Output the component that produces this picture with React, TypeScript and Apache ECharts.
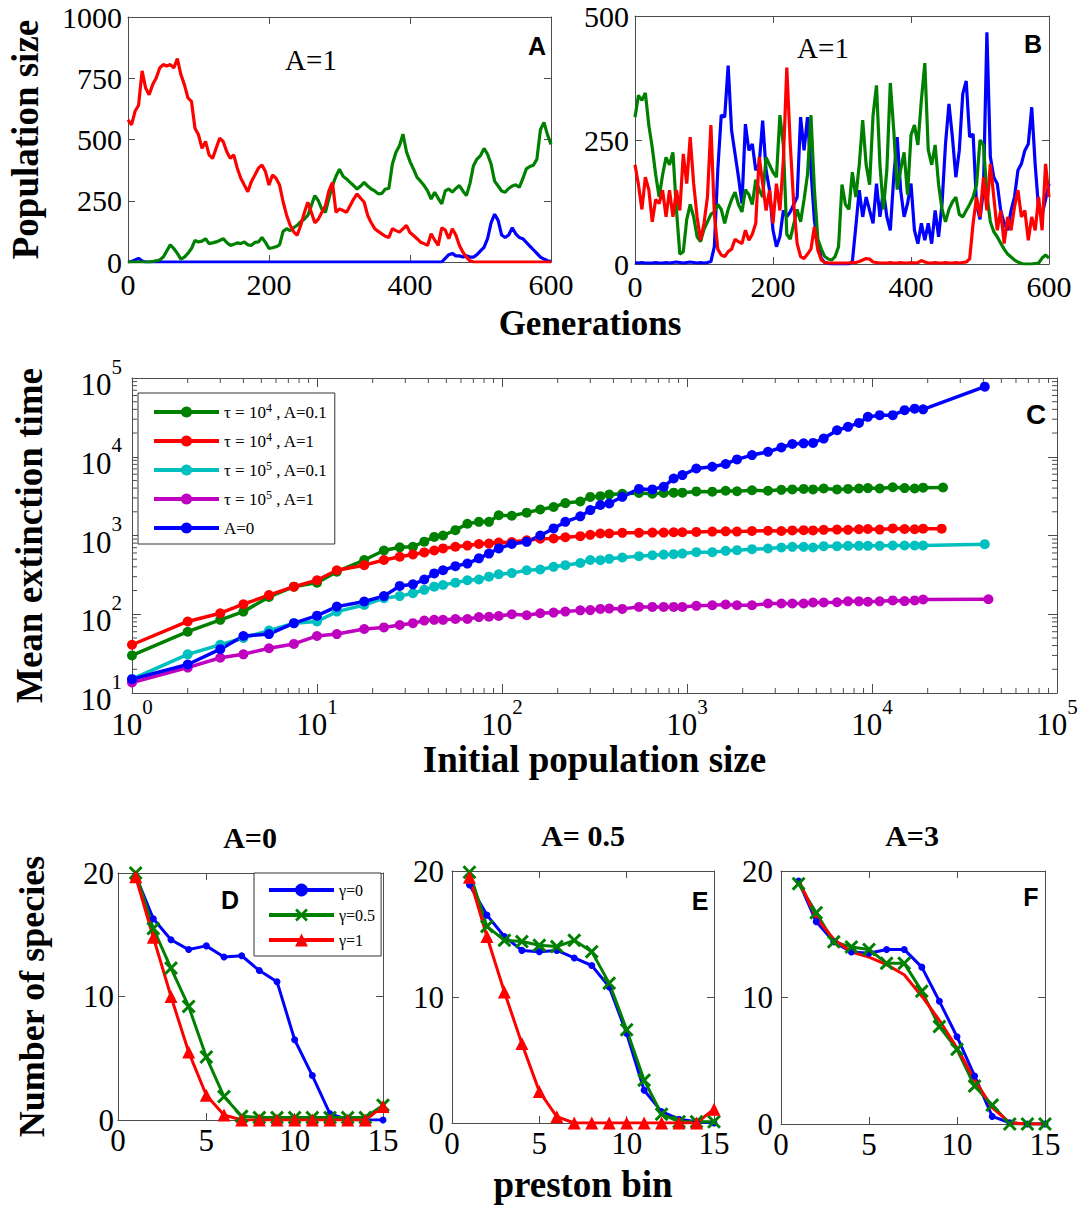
import React, { useEffect, useRef } from "react";
import * as echarts from "echarts";

const SERIF = "'Liberation Serif','Times New Roman',serif";
const SANS = "'Liberation Sans',Arial,sans-serif";
const AX = "#4d4d4d";
const BLUE = "#0000ff";
const GREEN = "#008000";
const RED = "#ff0000";
const CYAN = "#00bfbf";
const MAGENTA = "#bf00bf";

// ---------- Panels A & B: population size vs generation (sampled every 5 generations) ----------
const generations = Array.from({ length: 121 }, (_, i) => i * 5);

const popA_red = [
  580, 560, 615, 640, 780, 710, 683, 724, 751, 792, 806, 800, 806, 792, 830, 765, 724, 670, 656, 546,
  519, 464, 492, 437, 423, 464, 505, 492, 451, 423, 437, 383, 342, 314, 287, 328, 355, 383, 396, 369,
  314, 355, 342, 314, 246, 191, 150, 123, 109, 150, 200, 244, 203, 160, 175, 203, 230, 290, 325, 203,
  217, 210, 203, 230, 257, 278, 260, 244, 190, 160, 136, 125, 115, 105, 100, 136, 128, 122, 135, 149,
  120, 108, 95, 81, 75, 68, 115, 90, 68, 140, 130, 95, 136, 110, 68, 40, 20, 5, 0, 0,
  0, 0, 0, 0, 0, 0, 0, 0, 0, 0, 0, 0, 0, 0, 0, 0, 0, 0, 0, 0,
  0,
];
const popA_green = [
  0, 0, 0, 0, 0, 0, 0, 2, 5, 8, 20, 45, 70, 55, 35, 12, 20, 35, 55, 88,
  82, 85, 95, 75, 78, 82, 88, 95, 80, 68, 72, 78, 75, 82, 70, 68, 80, 82, 100, 80,
  55, 58, 62, 70, 125, 136, 128, 140, 150, 165, 175, 190, 230, 271, 250, 215, 203, 260, 312, 350,
  379, 350, 339, 325, 312, 298, 310, 325, 310, 298, 290, 278, 280, 298, 300, 400, 447, 474, 522, 450,
  410, 379, 345, 330, 312, 290, 257, 285, 260, 237, 290, 298, 285, 300, 312, 290, 271, 320, 393, 420,
  434, 464, 440, 400, 330, 310, 290, 285, 300, 310, 315, 305, 340, 380, 390, 395, 420, 540, 570, 520,
  480,
];
const popA_blue = [
  0, 2, 8, 15, 4, 0, 0, 0, 0, 0, 0, 0, 0, 0, 0, 0, 0, 0, 0, 0,
  0, 0, 0, 0, 0, 0, 0, 0, 0, 0, 0, 0, 0, 0, 0, 0, 0, 0, 0, 0,
  0, 0, 0, 0, 0, 0, 0, 0, 0, 0, 0, 0, 0, 0, 0, 0, 0, 0, 0, 0,
  0, 0, 0, 0, 0, 0, 0, 0, 0, 0, 0, 0, 0, 0, 0, 0, 0, 0, 0, 0,
  0, 0, 0, 0, 0, 0, 0, 0, 0, 0, 15, 30, 35, 25, 25, 20, 25, 20, 20, 30,
  45, 60, 95, 160, 195, 170, 110, 100, 110, 140, 115, 100, 95, 80, 65, 50, 35, 20, 12, 5,
  3,
];

const popB_green = [
  296, 340, 330, 345, 280, 235, 180, 135, 180, 215, 200, 225, 110, 20, 25, 90, 120, 95, 55, 45,
  70, 85, 100, 105, 120, 110, 82, 110, 130, 145, 120, 105, 150, 140, 120, 170, 150, 135, 215, 200,
  185, 175, 300, 240, 60, 50, 80, 110, 85, 130, 180, 300, 150, 50, 30, 15, 10, 8, 15, 35,
  160, 120, 110, 185, 135, 200, 290, 200, 160, 300, 360, 200, 110, 190, 365, 270, 150, 190, 225, 140,
  260, 280, 240, 330, 405, 230, 200, 240, 160, 110, 85, 110, 125, 135, 100, 95, 108, 120, 135, 160,
  250, 240, 140, 85, 65, 55, 42, 30, 20, 14, 8, 4, 1, 0, 0, 0, 1, 2, 12, 18,
  12,
];
const popB_blue = [
  3, 2, 3, 2, 2, 2, 3, 2, 2, 3, 2, 3, 4, 3, 2, 3, 4, 3, 2, 3,
  2, 3, 5, 35, 190, 300, 296, 400, 269, 222, 175, 122, 282, 229, 242, 189, 202, 289, 189, 149,
  68, 35, 55, 108, 95, 105, 120, 135, 296, 229, 296, 189, 88, 41, 11, 3, 1, 0, 0, 0,
  0, 0, 0, 5, 75, 149, 95, 135, 108, 82, 162, 95, 149, 95, 68, 175, 256, 149, 95, 122,
  162, 68, 41, 82, 48, 82, 41, 108, 55, 122, 242, 323, 256, 175, 229, 343, 369, 256, 262, 120,
  90, 150, 467, 216, 175, 162, 108, 82, 68, 108, 135, 189, 202, 229, 242, 316, 200, 110, 100, 130,
  162,
];
const popB_red = [
  200, 160, 110, 175, 150, 85, 130, 122, 149, 95, 149, 95, 149, 108, 222, 162, 256, 162, 95, 48,
  82, 135, 280, 100, 30, 18, 15, 25, 30, 50, 45, 41, 68, 48, 60, 82, 216, 162, 108, 149,
  82, 162, 108, 209, 396, 242, 122, 41, 15, 11, 20, 30, 75, 28, 8, 3, 2, 2, 2, 2,
  2, 2, 2, 3, 3, 5, 8, 11, 10, 4, 3, 2, 2, 2, 3, 2, 2, 3, 2, 2,
  3, 2, 3, 7, 4, 2, 2, 3, 2, 2, 3, 2, 2, 3, 2, 3, 4, 10, 82, 135,
  95, 175, 108, 202, 135, 68, 108, 41, 95, 68, 115, 149, 95, 108, 48, 95, 68, 135, 68, 202,
  135,
];

// ---------- Panel C: mean extinction time vs initial population size ----------
const initialSize = [
  1, 2, 3, 4, 5.5, 7.5, 10, 12.8, 18, 23, 28, 33, 38, 43, 48, 56, 65, 75, 85, 96,
  113, 136, 161, 190, 220, 265, 300, 340, 380, 447, 550, 650, 748, 847, 944, 1123,
  1370, 1618, 1863, 2246, 2740, 3236, 3710, 4270, 4800, 5480, 6470, 7420, 8500, 9500,
  11000, 12950, 15000, 17000, 18900,
];
const extTau4A01 = [
  30, 60, 85, 108, 166, 224, 252, 347, 488, 645, 708, 720, 835, 960, 1000, 1170, 1410, 1490, 1490, 1810,
  1780, 1950, 2140, 2300, 2580, 2700, 3090, 3160, 3310, 3390, 3470, 3390, 3470, 3500, 3500, 3630,
  3600, 3700, 3650, 3750, 3700, 3800, 3850, 3900, 3850, 3950, 3850, 3900, 3950, 4000,
  3950, 4100, 4000, 3950, 4050,
];
const extTau4A01End = [24200, 4070];
const extTau4A1 = [
  41, 81, 103, 134, 175, 224, 270, 362, 420, 488, 537, 575, 610, 645, 685, 720, 745, 780, 790, 815,
  825, 870, 910, 915, 950, 980, 1020, 1060, 1060, 1080, 1080, 1090, 1090, 1100, 1100, 1110,
  1120, 1130, 1120, 1140, 1150, 1140, 1160, 1170, 1160, 1180, 1190, 1180, 1200, 1210,
  1190, 1230, 1210, 1200, 1220,
];
const extTau4A1End = [23800, 1220];
const extTau5A01 = [
  15, 31, 41, 50, 62, 77, 81, 108, 131, 160, 170, 185, 204, 224, 235, 252, 270, 276, 300, 322,
  333, 362, 370, 400, 420, 447, 488, 486, 505, 525, 546, 562, 573, 579, 590, 614,
  614, 638, 651, 670, 684, 704, 718, 718, 704, 732, 732, 739, 739, 739,
  739, 746, 746, 746, 746,
];
const extTau5A01End = [40700, 776];
const extTau5A1 = [
  13.6, 21, 28, 31, 37, 42, 53, 56, 65, 68, 73, 77, 83, 85, 85, 87, 87, 92, 93, 95,
  100, 97, 103, 105, 108, 112, 113, 117, 118, 117, 124, 124, 124, 124, 124, 128,
  130, 133, 130, 130, 137, 137, 137, 137, 141, 141, 142, 146, 146, 144,
  146, 150, 147, 150, 154,
];
const extTau5A1End = [42600, 155];
const extA0 = [
  15, 23, 36, 53, 56, 77, 96, 125, 145, 170, 229, 240, 276, 330, 362, 408, 440, 513, 590, 685,
  780, 830, 1000, 1230, 1490, 1750, 2100, 2440, 2550, 3100, 3900, 3850, 4160, 5300, 5850, 7100,
  7460, 8100, 9250, 10500, 11540, 13100, 14500, 14800, 15000, 17000, 21700, 24000, 26900, 32100,
  33700, 33700, 39000, 40800, 40000,
];
const extA0End = [40700, 77600];

// ---------- Panels D, E, F: number of species per preston bin ----------
const prestonBins = [1, 2, 3, 4, 5, 6, 7, 8, 9, 10, 11, 12, 13, 14, 15];
const dGamma0 = [19.8, 16.3, 14.6, 13.8, 14.1, 13.2, 13.3, 12.1, 11.2, 6.5, 3.6, 0.5, 0.05, 0, 0];
const dGamma05 = [20, 15.5, 12.3, 9.2, 5.1, 1.9, 0.3, 0.2, 0.2, 0.2, 0.2, 0.2, 0.2, 0.2, 1.2];
const dGamma1 = [19.7, 14.8, 10.0, 5.5, 2.0, 0.4, 0, 0, 0, 0, 0, 0, 0, 0, 1.1];
const eGamma0 = [18.9, 16.5, 14.8, 13.7, 13.6, 13.7, 13.1, 12.5, 10.8, 7.1, 2.6, 0.9, 0.3, 0.1, 0];
const eGamma05 = [19.9, 15.6, 14.5, 14.4, 14.1, 14.0, 14.5, 13.6, 11.1, 7.4, 3.4, 0.7, 0.1, 0.1, 0.1];
const eGamma1 = [19.5, 14.8, 10.4, 6.3, 2.5, 0.5, 0, 0, 0, 0, 0, 0, 0, 0, 1.1];
const fGamma0 = [19.2, 16.0, 14.4, 13.6, 13.5, 13.8, 13.8, 12.4, 9.7, 6.9, 3.8, 0.6, 0.1, 0, 0];
const fGamma05 = [19.0, 16.7, 14.4, 14.0, 13.8, 12.7, 12.7, 10.5, 7.7, 5.9, 3.0, 1.5, 0, 0, 0];
const fGamma1 = [19.3, 16.3, 14.6, 13.6, 13.2, 12.6, 11.8, 10.1, 8.2, 6.0, 3.5, 1.3, 0.1, 0, 0];

const C_NAMES = ["τ = 10⁴ , A=0.1", "τ = 10⁴ , A=1", "τ = 10⁵ , A=0.1", "τ = 10⁵ , A=1", "A=0"];
const G_NAMES = ["γ=0", "γ=0.5", "γ=1"];

const X_SYMBOL = "path://M0,1.5L1.5,0L5,3.5L8.5,0L10,1.5L6.5,5L10,8.5L8.5,10L5,6.5L1.5,10L0,8.5L3.5,5Z";

// minor tick positions for the log axes
const minorX: number[] = [];
for (let d = 0; d < 5; d++) for (let m = 2; m <= 9; m++) minorX.push(m * Math.pow(10, d));
const minorY: number[] = [];
for (let d = 1; d < 5; d++) for (let m = 2; m <= 9; m++) minorY.push(m * Math.pow(10, d));

function axisPair(pos: "x" | "y", gridIndex: number, common: any, primaryExtra: any) {
  const base = {
    gridIndex,
    splitLine: { show: false },
    axisLine: { show: true, onZero: false, lineStyle: { color: AX, width: 1 } },
    axisTick: { show: true, inside: true, length: 7, lineStyle: { color: AX, width: 1 } },
    ...common,
  };
  return [
    { ...base, position: pos === "x" ? "bottom" : "left", ...primaryExtra },
    { ...base, position: pos === "x" ? "top" : "right", axisLabel: { show: false } },
  ];
}

const tickFont = (size: number, margin: number) => ({
  fontFamily: SERIF,
  fontSize: size,
  color: "#000",
  margin,
  formatter: (v: number) => String(v),
});

const axisTitle = (size: number) => ({
  fontFamily: SERIF,
  fontSize: size,
  fontWeight: "bold",
  color: "#000",
});

const logLabel = (margin: number) => ({
  margin,
  formatter: (v: number) => `{b|10}{e|${Math.round(Math.log10(v))}}`,
  rich: {
    b: { fontFamily: SERIF, fontSize: 31, color: "#000", lineHeight: 44, verticalAlign: "bottom" },
    e: { fontFamily: SERIF, fontSize: 21, color: "#000", verticalAlign: "top" },
  },
});

function pairs(xs: number[], ys: number[]) {
  return xs.map((x, i) => [x, ys[i]]);
}

function buildOption() {
  const grids = [
    { left: 128, top: 17, width: 423, height: 245 },
    { left: 635, top: 16, width: 414, height: 248 },
    { left: 132, top: 378, width: 925, height: 315 },
    { left: 118, top: 873, width: 265, height: 247 },
    { left: 452, top: 871, width: 262, height: 252 },
    { left: 781, top: 871, width: 264, height: 253 },
  ].map((g) => ({ ...g, show: false, containLabel: false }));

  const xAxis: any[] = [
    ...axisPair("x", 0, { type: "value", min: 0, max: 600, interval: 200 }, { axisLabel: tickFont(30, 7) }),
    ...axisPair("x", 1, { type: "value", min: 0, max: 600, interval: 200 }, { axisLabel: tickFont(30, 7) }),
    ...axisPair(
      "x",
      2,
      { type: "log", logBase: 10, min: 1, max: 100000, splitNumber: 5, axisTick: { show: true, inside: true, length: 9, lineStyle: { color: AX } } },
      {
        axisLabel: logLabel(3),
        name: "Initial population size",
        nameLocation: "middle",
        nameGap: 45,
        nameTextStyle: axisTitle(37),
      }
    ),
    ...axisPair("x", 3, { type: "value", min: 0, max: 15, interval: 5 }, { axisLabel: tickFont(31, 5) }),
    ...axisPair(
      "x",
      4,
      { type: "value", min: 0, max: 15, interval: 5 },
      { axisLabel: tickFont(31, 5), name: "preston bin", nameLocation: "middle", nameGap: 43, nameTextStyle: axisTitle(37) }
    ),
    ...axisPair("x", 5, { type: "value", min: 0, max: 15, interval: 5 }, { axisLabel: tickFont(31, 5) }),
  ];

  const yAxis: any[] = [
    ...axisPair(
      "y",
      0,
      { type: "value", min: 0, max: 1000, interval: 250 },
      { axisLabel: tickFont(30, 6), name: "Population size", nameLocation: "middle", nameGap: 84, nameTextStyle: axisTitle(37) }
    ),
    ...axisPair("y", 1, { type: "value", min: 0, max: 500, interval: 250 }, { axisLabel: tickFont(30, 6) }),
    ...axisPair(
      "y",
      2,
      { type: "log", logBase: 10, min: 10, max: 100000, splitNumber: 4, axisTick: { show: true, inside: true, length: 9, lineStyle: { color: AX } } },
      {
        axisLabel: logLabel(10),
        name: "Mean extinction time",
        nameLocation: "middle",
        nameGap: 84,
        nameTextStyle: axisTitle(37),
      }
    ),
    ...axisPair(
      "y",
      3,
      { type: "value", min: 0, max: 20, interval: 10 },
      { axisLabel: tickFont(31, 4), name: "Number of species", nameLocation: "middle", nameGap: 68, nameTextStyle: axisTitle(36) }
    ),
    ...axisPair("y", 4, { type: "value", min: 0, max: 20, interval: 10 }, { axisLabel: tickFont(31, 8) }),
    ...axisPair("y", 5, { type: "value", min: 0, max: 20, interval: 10 }, { axisLabel: tickFont(31, 8) }),
  ];

  const ts = (name: string, color: string, panel: number, xs: number[], ys: number[]) => ({
    type: "line",
    name,
    xAxisIndex: panel * 2,
    yAxisIndex: panel * 2,
    data: pairs(xs, ys),
    showSymbol: false,
    symbol: "none",
    lineStyle: { color, width: 3.2 },
    itemStyle: { color },
    silent: true,
  });

  const cs = (name: string, color: string, ys: number[], end: number[]) => ({
    type: "line",
    name,
    xAxisIndex: 4,
    yAxisIndex: 4,
    data: pairs(initialSize, ys).concat([end]),
    symbol: "circle",
    symbolSize: 10,
    lineStyle: { color, width: 3.5 },
    itemStyle: { color },
  });

  const gs = (name: string, color: string, panel: number, ys: number[], symbol: string, size: number, show = true) => ({
    type: "line",
    name,
    xAxisIndex: panel * 2,
    yAxisIndex: panel * 2,
    data: pairs(prestonBins, ys),
    symbol,
    symbolSize: size,
    showSymbol: show,
    lineStyle: { color, width: 3 },
    itemStyle: { color },
  });

  const minorTicks = (axis: "x" | "y") => ({
    type: "custom",
    name: axis === "x" ? "minor x ticks" : "minor y ticks",
    xAxisIndex: 4,
    yAxisIndex: 4,
    silent: true,
    clip: false,
    data: axis === "x" ? minorX.map((v) => [v, 10]) : minorY.map((v) => [1, v]),
    renderItem: (params: any, api: any) => {
      const r = params.coordSys;
      const st = { stroke: AX, lineWidth: 1 };
      if (axis === "x") {
        const px = api.coord([api.value(0), 10])[0];
        return {
          type: "group",
          children: [
            { type: "line", shape: { x1: px, y1: r.y + r.height, x2: px, y2: r.y + r.height - 5 }, style: st },
            { type: "line", shape: { x1: px, y1: r.y, x2: px, y2: r.y + 5 }, style: st },
          ],
        };
      }
      const py = api.coord([1, api.value(1)])[1];
      return {
        type: "group",
        children: [
          { type: "line", shape: { x1: r.x, y1: py, x2: r.x + 5, y2: py }, style: st },
          { type: "line", shape: { x1: r.x + r.width, y1: py, x2: r.x + r.width - 5, y2: py }, style: st },
        ],
      };
    },
  });

  const series: any[] = [
    ts("species 3 (A)", BLUE, 0, generations, popA_blue),
    ts("species 2 (A)", GREEN, 0, generations, popA_green),
    ts("species 1 (A)", RED, 0, generations, popA_red),
    ts("species 3 (B)", BLUE, 1, generations, popB_blue),
    ts("species 2 (B)", GREEN, 1, generations, popB_green),
    ts("species 1 (B)", RED, 1, generations, popB_red),
    minorTicks("x"),
    minorTicks("y"),
    cs(C_NAMES[0], GREEN, extTau4A01, extTau4A01End),
    cs(C_NAMES[1], RED, extTau4A1, extTau4A1End),
    cs(C_NAMES[2], CYAN, extTau5A01, extTau5A01End),
    cs(C_NAMES[3], MAGENTA, extTau5A1, extTau5A1End),
    cs(C_NAMES[4], BLUE, extA0, extA0End),
    gs(G_NAMES[0], BLUE, 3, dGamma0, "circle", 7),
    gs(G_NAMES[1], GREEN, 3, dGamma05, X_SYMBOL, 14),
    gs(G_NAMES[2], RED, 3, dGamma1, "triangle", 13),
    gs(G_NAMES[0], BLUE, 4, eGamma0, "circle", 7),
    gs(G_NAMES[1], GREEN, 4, eGamma05, X_SYMBOL, 14),
    gs(G_NAMES[2], RED, 4, eGamma1, "triangle", 13),
    gs(G_NAMES[0], BLUE, 5, fGamma0, "circle", 7),
    gs(G_NAMES[1], GREEN, 5, fGamma05, X_SYMBOL, 14),
    gs(G_NAMES[2], RED, 5, fGamma1, "triangle", 13, false),
  ];

  const legend = [
    {
      data: C_NAMES,
      orient: "vertical",
      left: 138,
      top: 393,
      padding: [9, 7, 6, 14],
      itemGap: 9,
      itemWidth: 65,
      itemHeight: 14,
      backgroundColor: "#fff",
      borderColor: "#333",
      borderWidth: 1,
      borderRadius: 0,
      selectedMode: false,
      lineStyle: { width: 4 },
      formatter: (name: string) => name.replace("⁴", "{s|4}").replace("⁵", "{s|5}"),
      textStyle: {
        fontFamily: SERIF,
        fontSize: 17,
        lineHeight: 20,
        color: "#000",
        rich: { s: { fontFamily: SERIF, fontSize: 12, color: "#000", verticalAlign: "top" } },
      },
    },
    {
      data: G_NAMES,
      orient: "vertical",
      left: 254,
      top: 873,
      padding: [9, 6, 8, 13],
      itemGap: 9,
      itemWidth: 65,
      itemHeight: 16,
      backgroundColor: "#fff",
      borderColor: "#333",
      borderWidth: 1,
      borderRadius: 0,
      selectedMode: false,
      lineStyle: { width: 4 },
      textStyle: { fontFamily: SERIF, fontSize: 16, lineHeight: 16, color: "#000" },
    },
  ];

  const title = [
    { text: "A=0", left: 250, top: 837 },
    { text: "A= 0.5", left: 583, top: 835 },
    { text: "A=3", left: 912, top: 835 },
  ].map((t) => ({
    ...t,
    padding: 0,
    textAlign: "center",
    textVerticalAlign: "middle",
    textStyle: { fontFamily: SERIF, fontSize: 30, fontWeight: "bold", color: "#000" },
  }));

  const txt = (text: string, x: number, y: number, font: string) => ({
    type: "text",
    x,
    y,
    z: 50,
    silent: true,
    style: {
      text,
      font,
      fill: "#000",
      textAlign: "center",
      textVerticalAlign: "middle",
      align: "center",
      verticalAlign: "middle",
    },
  });

  const graphic = [
    txt("Generations", 590, 323, `bold 35px ${SERIF}`),
    txt("A=1", 311, 60, `29px ${SERIF}`),
    txt("A=1", 823, 48, `29px ${SERIF}`),
    txt("A", 537, 46, `bold 25px ${SANS}`),
    txt("B", 1033, 44, `bold 25px ${SANS}`),
    txt("C", 1036, 414, `bold 28px ${SANS}`),
    txt("D", 230, 900, `bold 25px ${SANS}`),
    txt("E", 700, 901, `bold 25px ${SANS}`),
    txt("F", 1031, 897, `bold 25px ${SANS}`),
  ];

  return {
    animation: false,
    backgroundColor: "#fff",
    grid: grids,
    xAxis,
    yAxis,
    series,
    legend,
    title,
    graphic,
  };
}

export default function App() {
  const ref = useRef<HTMLDivElement>(null);
  useEffect(() => {
    document.body.style.margin = "0";
    const chart = echarts.init(ref.current as HTMLDivElement, null, { renderer: "svg" });
    chart.setOption(buildOption() as any);
    return () => chart.dispose();
  }, []);
  return <div ref={ref} style={{ width: 1081, height: 1206, background: "#fff" }} />;
}
